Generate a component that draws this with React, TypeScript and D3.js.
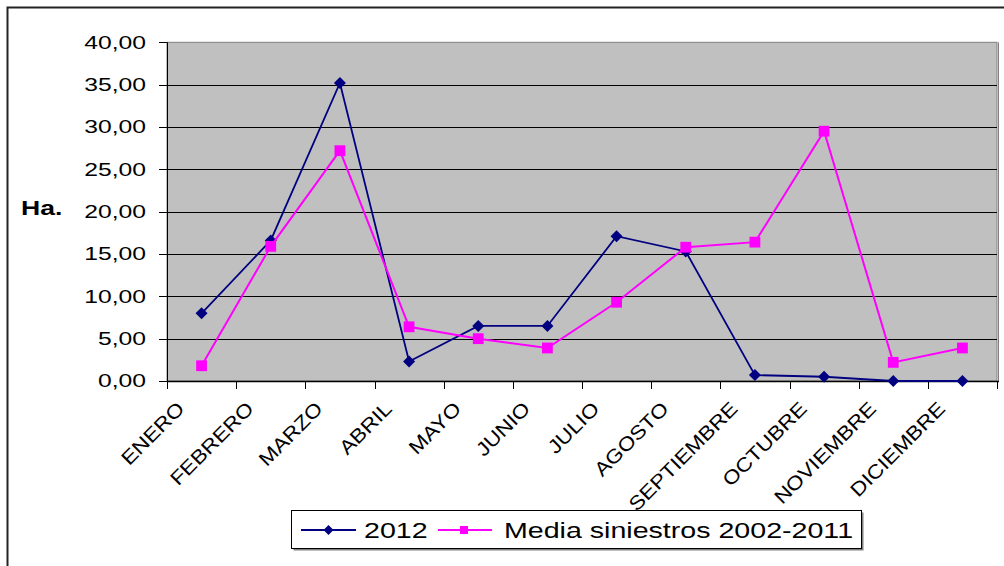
import React from "react";
import * as d3 from "d3";

const months = ["ENERO","FEBRERO","MARZO","ABRIL","MAYO","JUNIO","JULIO","AGOSTO","SEPTIEMBRE","OCTUBRE","NOVIEMBRE","DICIEMBRE"];
const values2012 = [8.0, 16.6, 35.2, 2.3, 6.5, 6.5, 17.1, 15.3, 0.7, 0.5, 0.0, 0.0];
const valuesMedia = [1.8, 15.9, 27.2, 6.4, 5.0, 3.9, 9.3, 15.8, 16.4, 29.5, 2.2, 3.9];
const yTicks = [0, 5, 10, 15, 20, 25, 30, 35, 40];
const seriesNames = ["2012", "Media siniestros 2002-2011"];

const W = 1004, H = 566;
const plot = { left: 167, right: 997, top: 42.3, bottom: 381 };
const NAVY = "#000080";
const PINK = "#FF00FF";
const FONT = "'Liberation Sans', Arial, sans-serif";

const fmt = (v: number) => v.toFixed(2).replace(".", ",");

function Diamond({ x, y, r }: { x: number; y: number; r: number }) {
  return <path d={`M${x},${y - r}L${x + r},${y}L${x},${y + r}L${x - r},${y}Z`} fill={NAVY} />;
}
function Square({ x, y, r }: { x: number; y: number; r: number }) {
  return <rect x={x - r} y={y - r} width={2 * r} height={2 * r} fill={PINK} />;
}

export default function App() {
  const x = d3.scaleBand<string>().domain(months).range([plot.left, plot.right]).padding(0);
  const y = d3.scaleLinear().domain([0, 40]).range([plot.bottom, plot.top]);
  const cx = (m: string) => (x(m) as number) + x.bandwidth() / 2;
  const line = d3.line<number>().x((_, i) => cx(months[i])).y((v) => y(v));
  const boundaries = d3.range(months.length + 1).map((i) => plot.left + i * x.bandwidth());

  return (
    <svg width={W} height={H} style={{ position: "fixed", left: 0, top: 0, background: "#fff" }} fontFamily={FONT}>
      <rect x={0} y={0} width={W} height={H} fill="#fff" />
      {/* outer chart border (clipped at right/bottom) */}
      <path d={`M7.5,${H + 5}V7.5H${W + 5}`} fill="none" stroke="#222" strokeWidth={2} />

      {/* plot area */}
      <rect x={plot.left} y={plot.top} width={plot.right - plot.left} height={plot.bottom - plot.top} fill="#C0C0C0" stroke="#808080" strokeWidth={1} />
      {yTicks.filter((t) => t > 0 && t < 40).map((t) => (
        <line key={t} x1={plot.left} x2={plot.right} y1={Math.round(y(t)) + 0.5} y2={Math.round(y(t)) + 0.5} stroke="#000" strokeWidth={1} />
      ))}
      <line x1={plot.right + 1.5} x2={plot.right + 1.5} y1={plot.top} y2={plot.bottom} stroke="#808080" strokeWidth={1} />

      {/* axes */}
      <line x1={plot.left + 0.5} x2={plot.left + 0.5} y1={plot.top} y2={plot.bottom + 0.5} stroke="#000" strokeWidth={1} />
      <line x1={plot.left} x2={plot.right + 2} y1={plot.bottom + 0.5} y2={plot.bottom + 0.5} stroke="#000" strokeWidth={1.5} />
      {yTicks.map((t) => (
        <g key={t}>
          <line x1={159} x2={plot.left} y1={Math.round(y(t)) + 0.5} y2={Math.round(y(t)) + 0.5} stroke="#000" />
          <text transform={`translate(146,${y(t)}) scale(1.3,1)`} textAnchor="end" dominantBaseline="central" fontSize={19} fill="#000">
            {fmt(t)}
          </text>
        </g>
      ))}
      {boundaries.map((bx, i) => (
        <line key={i} x1={Math.round(bx) + 0.5} x2={Math.round(bx) + 0.5} y1={plot.bottom} y2={plot.bottom + 8} stroke="#000" />
      ))}
      {months.map((m) => (
        <text key={m} transform={`translate(${cx(m) - 16},${plot.bottom + 29}) rotate(-45) scale(1.15,1)`} textAnchor="end" fontSize={19.5} fill="#000">
          {m}
        </text>
      ))}

      <text transform="translate(21,215) scale(1.33,1)" fontSize={20} fontWeight="bold" fill="#000">Ha.</text>

      {/* series */}
      <path d={line(values2012) || ""} fill="none" stroke={NAVY} strokeWidth={1.8} />
      {values2012.map((v, i) => <Diamond key={i} x={cx(months[i])} y={y(v)} r={6} />)}
      <path d={line(valuesMedia) || ""} fill="none" stroke={PINK} strokeWidth={2} />
      {valuesMedia.map((v, i) => <Square key={i} x={cx(months[i])} y={y(v)} r={5.4} />)}

      {/* legend */}
      <rect x={293.5} y={512.5} width={570} height={38} fill="#808080" />
      <rect x={291.5} y={510.5} width={570} height={38} fill="#fff" stroke="#000" strokeWidth={1} />
      <line x1={301} x2={356} y1={530} y2={530} stroke={NAVY} strokeWidth={1.8} />
      <Diamond x={328.5} y={530} r={5} />
      <text transform="translate(364,537.7) scale(1.3,1)" fontSize={22} fill="#000">{seriesNames[0]}</text>
      <line x1={438} x2={492} y1={530} y2={530} stroke={PINK} strokeWidth={2} />
      <Square x={464} y={530} r={4} />
      <text transform="translate(504,537.7) scale(1.3,1)" fontSize={22} fill="#000">{seriesNames[1]}</text>
    </svg>
  );
}
